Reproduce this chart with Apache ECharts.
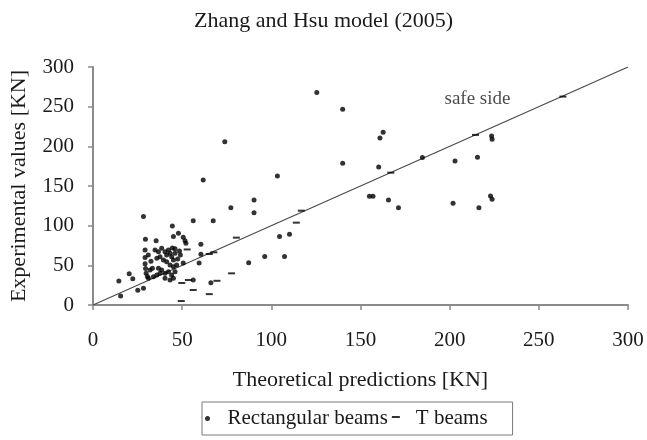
<!DOCTYPE html>
<html>
<head>
<meta charset="utf-8">
<script src="https://cdn.jsdelivr.net/npm/echarts@6/dist/echarts.min.js"></script>
<style>
  html, body { margin: 0; padding: 0; background: #fff; }
</style>
</head>
<body>
<div id="main" style="width: 647px; height: 440px"></div>
<script>
// ticks of both axes
var tickValues = [0, 50, 100, 150, 200, 250, 300];

// [theoretical, experimental]
var rectBeams = [
  [73.9, 205.9], [61.8, 157.6], [90.3, 132.4], [90.3, 116.4], [77.3, 122.7],
  [67.4, 106.3], [56.2, 106.3], [28.3, 111.4], [44.5, 99.6], [29.4, 82.8],
  [35.4, 81.1], [47.9, 90.4], [45.1, 86.5], [50.6, 85.4], [51.6, 81.1],
  [52.1, 77.8], [60.5, 76.7], [60.5, 64.1], [87.3, 53.4], [59.5, 53.0],
  [50.6, 53.0], [125.5, 267.8], [140, 246.8], [162.7, 217.8], [160.9, 210.6],
  [140, 178.7], [160.2, 174], [184.7, 185.8], [103.4, 162.7], [155, 137],
  [157, 137], [165.7, 132.4], [171.3, 122.7], [104.6, 86.2], [110.2, 89.2],
  [96.3, 61], [107.4, 61], [223.5, 213], [223.8, 209], [203, 181.6],
  [215.6, 186.2], [201.9, 128.2], [216.4, 122.7], [222.9, 137.5], [223.8, 133.3],
  [56.2, 31.5], [66.1, 28.1], [14.5, 30.3], [15.5, 11.5], [20.3, 39.5],
  [22.3, 33.2], [25.1, 18.5], [28.3, 21],
  // dense cluster
  [29.2, 69.4], [29.2, 60], [29.2, 52], [29.5, 46], [29.8, 40], [30.5, 36],
  [31.1, 33.6], [32, 44], [33.3, 46.2], [33.9, 35.7], [34.8, 69.4], [35.8, 58.9],
  [35.8, 37.8], [36.7, 67.2], [36.7, 46.3], [37.6, 60.9], [37.6, 40], [38.5, 71.5],
  [38.5, 44.1], [39.5, 56.7], [40.4, 67.2], [40.4, 40], [40.4, 33.6], [41.3, 63.1],
  [41.3, 54.6], [42.3, 69.4], [42.3, 42], [43.2, 65.2], [43.2, 50.4], [43.2, 31.5],
  [44.1, 60.9], [44.1, 37.8], [45.1, 56.7], [45.1, 48.3], [45.1, 33.6], [46, 65.2],
  [46, 42], [46.9, 50.4], [47.5, 58], [48.5, 68], [49, 63], [44.5, 72],
  [31, 63], [32.5, 55], [46, 71]
];

var tBeams = [
  [65.2, 64.3], [67.8, 66.4], [80.4, 84.9], [52.8, 70], [53.5, 31.5],
  [56.2, 18.9], [49.8, 27.7], [49.5, 5], [69.5, 30.5], [65.2, 13.7],
  [77.7, 39.9], [114, 103.8], [116.8, 118.9], [167, 166.8], [214.5, 214.4],
  [263.5, 262.7]
];

var equalityLine = [[0, 0], [300, 300]];
var noteText = 'safe side';
var notePos = [[215.6, 259.8]];

var chartDom = document.getElementById('main');
var myChart = echarts.init(chartDom);
var serif = 'Liberation Serif, Times New Roman, serif';
var ink = '#1a1a1a';
var axisGray = '#8a8a8a';

var option = {
  animation: false,
  textStyle: { fontFamily: serif, color: ink },
  title: {
    text: 'Zhang and Hsu model (2005)',
    left: 'center',
    top: 5,
    textStyle: { fontFamily: serif, fontSize: 22, fontWeight: 'normal', color: ink }
  },
  grid: { left: 91, right: 19, top: 67, bottom: 135 },
  legend: {
    left: 202,
    top: 402,
    padding: [6, 25, 6, 3],
    itemGap: 3,
    itemWidth: 10,
    itemHeight: 5,
    borderColor: '#7a7a7a',
    borderWidth: 1,
    textStyle: {
      fontFamily: serif,
      fontSize: 21,
      color: ink,
      rich: {
        wide: { fontFamily: serif, fontSize: 21, color: ink, padding: [0, 0, 0, 10] },
        tight: { fontFamily: serif, fontSize: 21, color: ink, padding: [0, 0, 0, 10] }
      }
    },
    formatter: function (name) {
      return name === 'Rectangular beams' ? '{wide|' + name + '}' : '{tight|' + name + '}';
    },
    data: [
      { name: 'Rectangular beams', icon: 'circle' },
      { name: 'T beams', icon: 'path://M0 0M10 5M1 0H9V2H1Z' }
    ]
  },
  xAxis: {
    type: 'value',
    min: 0,
    max: 300,
    interval: 50,
    name: 'Theoretical predictions [KN]',
    nameLocation: 'middle',
    nameGap: 64,
    nameTextStyle: { fontFamily: serif, fontSize: 22, color: ink },
    splitLine: { show: false },
    axisLine: { lineStyle: { color: axisGray, width: 2 } },
    axisTick: { length: 5, lineStyle: { color: axisGray, width: 1.5 } },
    axisLabel: {
      margin: 25,
      fontFamily: serif,
      fontSize: 21,
      color: ink,
      formatter: function (v) { return tickValues.indexOf(v) >= 0 ? String(v) : ''; }
    }
  },
  yAxis: {
    type: 'value',
    min: 0,
    max: 300,
    interval: 50,
    name: 'Experimental values [KN]',
    nameLocation: 'middle',
    nameGap: 63,
    nameTextStyle: { fontFamily: serif, fontSize: 22, color: ink },
    splitLine: { show: false },
    axisLine: { show: true, lineStyle: { color: axisGray, width: 2 } },
    axisTick: { show: true, length: 5, lineStyle: { color: axisGray, width: 1.5 } },
    axisLabel: {
      margin: 19,
      fontFamily: serif,
      fontSize: 21,
      color: ink
    }
  },
  series: [
    {
      name: 'equality',
      type: 'line',
      data: equalityLine,
      symbol: 'none',
      silent: true,
      lineStyle: { color: '#4a4a4a', width: 1.2 },
      z: 1
    },
    {
      name: 'Rectangular beams',
      type: 'scatter',
      data: rectBeams,
      symbol: 'circle',
      symbolSize: 5,
      itemStyle: { color: '#000' },
      z: 3
    },
    {
      name: 'T beams',
      type: 'scatter',
      data: tBeams,
      symbol: 'rect',
      symbolSize: [7, 2],
      itemStyle: { color: '#000' },
      z: 3
    },
    {
      name: 'note',
      type: 'scatter',
      data: notePos,
      symbolSize: 1,
      silent: true,
      itemStyle: { color: 'rgba(0,0,0,0)' },
      label: {
        show: true,
        position: 'inside',
        formatter: noteText,
        fontFamily: serif,
        fontSize: 19,
        color: ink
      }
    }
  ]
};

option && myChart.setOption(option);
window.addEventListener('resize', function () {
  myChart.resize();
});
</script>
</body>
</html>
